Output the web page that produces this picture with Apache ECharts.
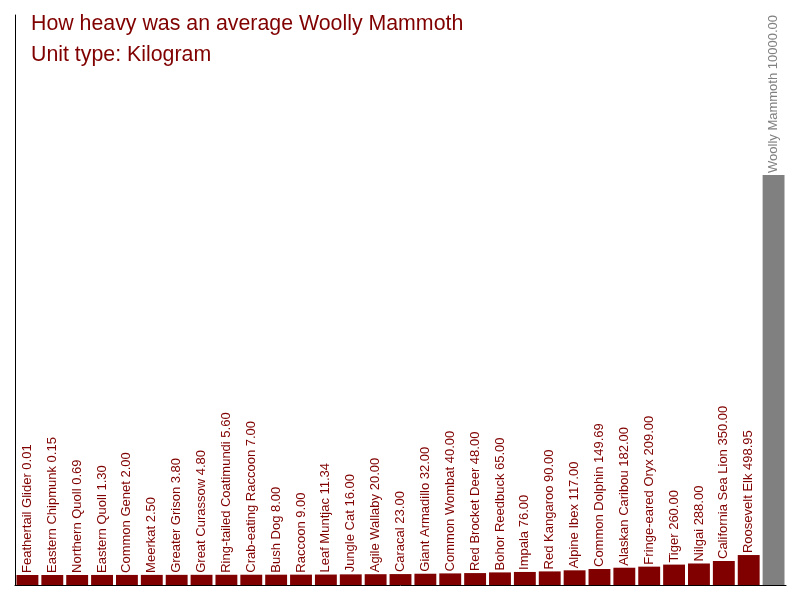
<!DOCTYPE html>
<html>
<head>
<meta charset="utf-8">
<script src="https://cdn.jsdelivr.net/npm/echarts@6/dist/echarts.min.js"></script>
<style>
html, body { margin: 0; padding: 0; background: #fff; }
#chart { width: 800px; height: 600px; }
</style>
</head>
<body>
<div id="chart"></div>
<script>
var animals = ['Feathertail Glider', 'Eastern Chipmunk', 'Northern Quoll', 'Eastern Quoll', 'Common Genet',
	'Meerkat', 'Greater Grison', 'Great Curassow', 'Ring-tailed Coatimundi', 'Crab-eating Raccoon',
	'Bush Dog', 'Raccoon', 'Leaf Muntjac', 'Jungle Cat', 'Agile Wallaby', 'Caracal', 'Giant Armadillo',
	'Common Wombat', 'Red Brocket Deer', 'Bohor Reedbuck', 'Impala', 'Red Kangaroo', 'Alpine Ibex',
	'Common Dolphin', 'Alaskan Caribou', 'Fringe-eared Oryx', 'Tiger', 'Nilgai', 'California Sea Lion',
	'Roosevelt Elk', 'Woolly Mammoth'];
var weights = [0.01, 0.15, 0.69, 1.30, 2.00, 2.50, 3.80, 4.80, 5.60, 7.00, 8.00, 9.00, 11.34, 16.00,
	20.00, 23.00, 32.00, 40.00, 48.00, 65.00, 76.00, 90.00, 117.00, 149.69, 182.00, 209.00, 260.00,
	288.00, 350.00, 498.95, 10000.00];
var highlight = 'Woolly Mammoth';

var yMin = -250;
var myChart = echarts.init(document.getElementById('chart'));

myChart.setOption({
	animation : false,
	title : [ {
		text : 'How heavy was an average Woolly Mammoth',
		left : 26,
		top : 9,
		textStyle : { color : '#800000', fontSize : 21.33, fontWeight : 'normal', fontFamily : 'Liberation Sans, Arial' }
	}, {
		text : 'Unit type: Kilogram',
		left : 26,
		top : 40,
		textStyle : { color : '#800000', fontSize : 21.33, fontWeight : 'normal', fontFamily : 'Liberation Sans, Arial' }
	} ],
	grid : { left : 15, right : 14, top : 15, bottom : 15 },
	xAxis : {
		type : 'category',
		data : animals,
		axisLine : { onZero : false, lineStyle : { color : '#000', width : 1 } },
		axisTick : { show : false },
		axisLabel : { show : false }
	},
	yAxis : {
		type : 'value',
		min : yMin,
		max : 14000,
		axisLine : { show : true, lineStyle : { color : '#000', width : 1 } },
		axisTick : { show : false },
		axisLabel : { show : false },
		splitLine : { show : false }
	},
	series : [ {
		type : 'custom',
		data : weights.map(function(w, i) { return [i, w]; }),
		renderItem : function(params, api) {
			var i = api.value(0);
			var v = api.value(1);
			var top = api.coord([i, v]);
			var bottom = api.coord([i, yMin]);
			var band = api.size([1, 0])[0];
			var w = band * 0.88;
			var isHi = animals[i] === highlight;
			return {
				type : 'group',
				children : [ {
					type : 'rect',
					shape : { x : top[0] - w / 2, y : top[1], width : w, height : bottom[1] - top[1] },
					style : { fill : isHi ? '#808080' : '#800000' }
				}, {
					type : 'text',
					x : top[0],
					y : top[1] - 2,
					rotation : Math.PI / 2,
					style : {
						text : animals[i] + ' ' + v.toFixed(2),
						fill : isHi ? '#808080' : '#800000',
						fontSize : 13,
						fontFamily : 'Liberation Sans, Arial',
						align : 'left',
						verticalAlign : 'middle'
					}
				} ]
			};
		}
	} ]
});
</script>
</body>
</html>
